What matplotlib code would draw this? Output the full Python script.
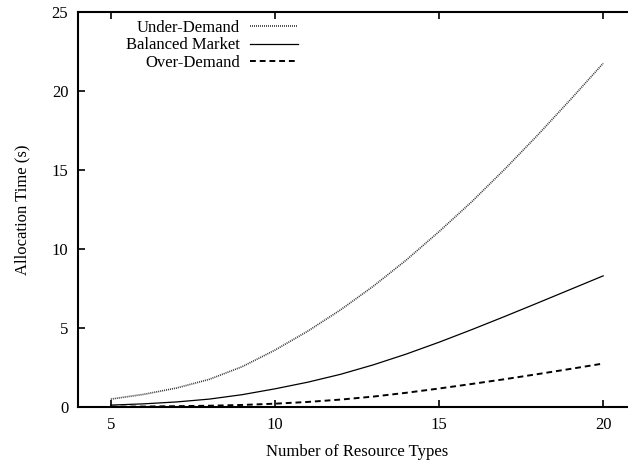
## Allocation time vs number of resource types (gnuplot-style line chart)

import matplotlib
matplotlib.use("Agg")
import matplotlib.pyplot as plt

plt.rcParams['font.family'] = ['Liberation Serif', 'DejaVu Serif']
plt.rcParams['font.size'] = 12

## Values
resource_types = [5, 6, 7, 8, 9, 10, 11, 12, 13, 14, 15, 16, 17, 18, 19, 20]
under_demand = [0.5, 0.8, 1.2, 1.75, 2.55, 3.6, 4.8, 6.15, 7.65, 9.3, 11.1,
                13.0, 15.05, 17.2, 19.45, 21.75]
balanced = [0.12, 0.2, 0.32, 0.5, 0.78, 1.15, 1.57, 2.07, 2.67, 3.35, 4.1,
            4.9, 5.73, 6.58, 7.44, 8.3]
over_demand = [0.02, 0.03, 0.05, 0.08, 0.13, 0.21, 0.32, 0.47, 0.66, 0.9, 1.17,
               1.46, 1.76, 2.08, 2.41, 2.75]

x_ticks = [5, 10, 15, 20]
y_ticks = [0, 5, 10, 15, 20, 25]

fig = plt.figure(figsize=(6.28, 4.63), dpi=100)
# right edge of the plot box falls outside the picture, like the original crop
ax = fig.add_axes([78 / 628, 1 - 407 / 463, (636 - 78) / 628, (407 - 12) / 463])

ax.plot(resource_types, under_demand, color='#333333', lw=1.2,
        linestyle=(0, (0.6, 0.6)), label='Under-Demand')
ax.plot(resource_types, balanced, color='black', lw=0.9, label='Balanced Market')
ax.plot(resource_types, over_demand, color='black', lw=1.4,
        linestyle=(0, (3, 2)), label='Over-Demand')

ax.set_xlim(4, 21)
ax.set_ylim(0, 25)
ax.set_xticks(x_ticks)
ax.set_yticks(y_ticks)
ax.tick_params(direction='in', length=5, width=1.2, top=True, right=True, pad=7)
for s in ax.spines.values():
    s.set_linewidth(1.5)

ax.set_xlabel("Number of Resource Types", labelpad=8)
ax.set_ylabel("Allocation Time (s)", labelpad=15)

leg = ax.legend(loc='upper left', bbox_to_anchor=(0.065, 1.01), frameon=False,
                markerfirst=False, handlelength=2.9, handletextpad=0.6,
                labelspacing=0.1, borderaxespad=0.3)
for t in leg.get_texts():
    t.set_ha('right')

plt.savefig("out.png", dpi=100)
